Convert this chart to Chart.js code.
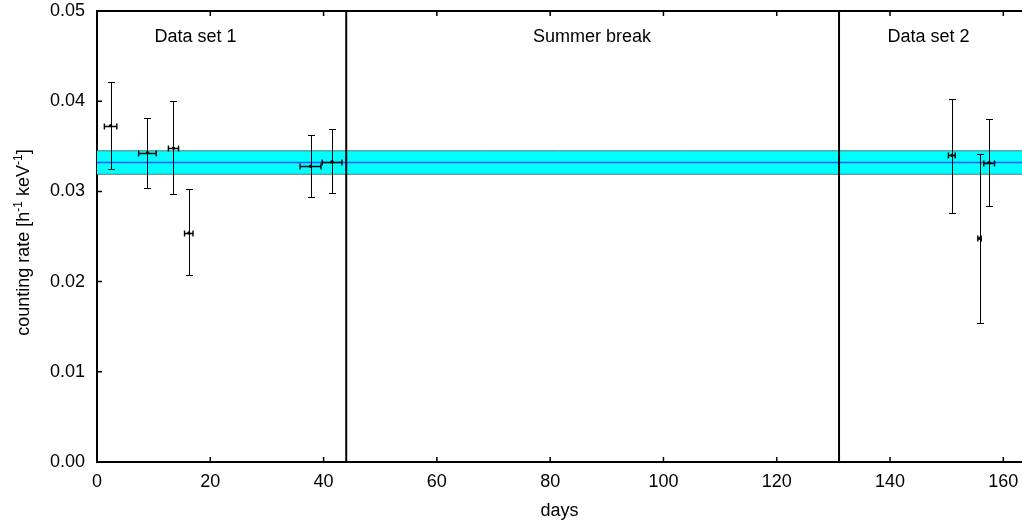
<!DOCTYPE html>
<html>
<head>
<meta charset="utf-8">
<script src="https://cdn.jsdelivr.net/npm/chart.js@4"></script>
<style>
    html, body { margin: 0; padding: 0; background: #fff; overflow: hidden; }
    #wrap { width: 1022px; height: 527px; }
    canvas { display: block; }
</style>
</head>
<body>
<div id="wrap"><canvas id="rateChart" width="1022" height="527"></canvas></div>
<script>
// measurements (days, counting rate with errors)
const days = [2.4, 8.9, 13.5, 16.2, 37.7, 41.5, 150.9, 155.8, 157.5];
const dayErr = [1.1, 1.55, 0.9, 0.75, 1.85, 1.75, 0.6, 0.3, 0.95];
const rates = [0.0373, 0.0343, 0.0348, 0.0254, 0.0328, 0.0333, 0.0340, 0.0248, 0.0332];
const rateLow = [0.0325, 0.0304, 0.0297, 0.0207, 0.0294, 0.0298, 0.0276, 0.0154, 0.0284];
const rateHigh = [0.0421, 0.0381, 0.0400, 0.0303, 0.0363, 0.0369, 0.0402, 0.0341, 0.0380];

// weighted mean and its band
const meanRate = 0.0332;
const meanLow = 0.0319;
const meanHigh = 0.0345;

// period separators and their names
const breaks = [44, 131];
const regionNames = ["Data set 1", "Summer break", "Data set 2"];
const regionCenters = [17.4, 87.4, 146.8];
const regionLabelY = 0.0471;

const xTickValues = [0, 20, 40, 60, 80, 100, 120, 140, 160];
const yTickValues = [0, 0.01, 0.02, 0.03, 0.04, 0.05];
const xMin = 0, xMax = 163.3;
const yMin = 0, yMax = 0.05;

const yTitleParts = [
    { text: "counting rate [h", sup: false },
    { text: "-1", sup: true },
    { text: " keV", sup: false },
    { text: "-1", sup: true },
    { text: "]", sup: false }
];

const FONT = "'Liberation Sans', Arial, Helvetica, sans-serif";
Chart.defaults.font.family = FONT;
Chart.defaults.font.size = 18;
Chart.defaults.color = "#000";

const framePlugin = {
    id: "frame",
    afterDraw(chart) {
        const { ctx, chartArea } = chart;
        const x = chart.scales.x;
        const y = chart.scales.y;
        ctx.save();
        ctx.strokeStyle = "#000";
        ctx.lineWidth = 2;
        ctx.beginPath();
        ctx.moveTo(chartArea.left - 1, chartArea.top);
        ctx.lineTo(chartArea.right, chartArea.top);
        ctx.stroke();

        ctx.lineWidth = 1.5;
        ctx.beginPath();
        xTickValues.forEach(v => {
            const px = x.getPixelForValue(v);
            ctx.moveTo(px, chartArea.bottom);
            ctx.lineTo(px, chartArea.bottom - 5);
            ctx.moveTo(px, chartArea.top);
            ctx.lineTo(px, chartArea.top + 5);
        });
        yTickValues.forEach(v => {
            const py = y.getPixelForValue(v);
            ctx.moveTo(chartArea.left, py);
            ctx.lineTo(chartArea.left + 5, py);
        });
        ctx.stroke();
        ctx.restore();
    }
};

const errorBarsPlugin = {
    id: "errorBars",
    afterDatasetsDraw(chart) {
        const ctx = chart.ctx;
        const x = chart.scales.x;
        const y = chart.scales.y;
        ctx.save();
        ctx.strokeStyle = "#000";
        days.forEach((d, i) => {
            const px = Math.round(x.getPixelForValue(d)) + 0.5;
            const py = Math.round(y.getPixelForValue(rates[i])) + 0.5;
            const top = Math.round(y.getPixelForValue(rateHigh[i])) + 0.5;
            const bottom = Math.round(y.getPixelForValue(rateLow[i])) + 0.5;
            const left = x.getPixelForValue(d - dayErr[i]);
            const right = x.getPixelForValue(d + dayErr[i]);
            ctx.lineWidth = 1;
            ctx.beginPath();
            ctx.moveTo(px, top);
            ctx.lineTo(px, bottom);
            ctx.moveTo(px - 3.5, top);
            ctx.lineTo(px + 3.5, top);
            ctx.moveTo(px - 3.5, bottom);
            ctx.lineTo(px + 3.5, bottom);
            ctx.stroke();
            ctx.lineWidth = 1.4;
            ctx.beginPath();
            ctx.moveTo(left, py);
            ctx.lineTo(right, py);
            ctx.moveTo(left, py - 3);
            ctx.lineTo(left, py + 3);
            ctx.moveTo(right, py - 3);
            ctx.lineTo(right, py + 3);
            ctx.stroke();
        });
        ctx.restore();
    }
};

const labelsPlugin = {
    id: "regionLabels",
    afterDraw(chart) {
        const ctx = chart.ctx;
        const x = chart.scales.x;
        const y = chart.scales.y;
        ctx.save();
        ctx.font = "18px " + FONT;
        ctx.fillStyle = "#000";
        ctx.textAlign = "center";
        ctx.textBaseline = "middle";
        regionNames.forEach((name, i) => {
            ctx.fillText(name, x.getPixelForValue(regionCenters[i]), y.getPixelForValue(regionLabelY));
        });

        // y axis title with superscripts
        const cy = (chart.chartArea.top + chart.chartArea.bottom) / 2 + 6;
        const mainFont = "18px " + FONT;
        const supFont = "12px " + FONT;
        let total = 0;
        yTitleParts.forEach(p => {
            ctx.font = p.sup ? supFont : mainFont;
            p.w = ctx.measureText(p.text).width;
            total += p.w;
        });
        ctx.translate(29, cy);
        ctx.rotate(-Math.PI / 2);
        ctx.textAlign = "left";
        ctx.textBaseline = "alphabetic";
        let pos = -total / 2;
        yTitleParts.forEach(p => {
            ctx.font = p.sup ? supFont : mainFont;
            ctx.fillText(p.text, pos, p.sup ? -7 : 0);
            pos += p.w;
        });
        ctx.restore();
    }
};

function hLine(value) {
    return [{ x: xMin, y: value }, { x: xMax, y: value }];
}

const datasets = [
    {
        data: hLine(meanHigh), showLine: true, fill: false,
        borderColor: "#4d7d7d", borderWidth: 1, pointRadius: 0, order: 4
    },
    {
        data: hLine(meanLow), showLine: true, fill: "-1",
        backgroundColor: "#00ffff", borderColor: "#4d7d7d", borderWidth: 1, pointRadius: 0, order: 4
    },
    {
        data: hLine(meanRate), showLine: true, fill: false,
        borderColor: "#2255ff", borderWidth: 1.5, pointRadius: 0, order: 3
    }
];

breaks.forEach(b => {
    datasets.push({
        data: [{ x: b, y: yMin }, { x: b, y: yMax }], showLine: true, fill: false,
        borderColor: "#000", borderWidth: 2, pointRadius: 0, order: 2
    });
});

datasets.push({
    data: days.map((d, i) => ({ x: d, y: rates[i] })),
    pointRadius: 1.6, backgroundColor: "#000", borderWidth: 0, order: 0
});

new Chart(document.getElementById("rateChart"), {
    type: "scatter",
    data: { datasets },
    options: {
        responsive: false,
        animation: false,
        devicePixelRatio: 1,
        layout: { autoPadding: false, padding: { top: 11, left: 0, right: 0, bottom: 0 } },
        plugins: {
            legend: { display: false },
            tooltip: { enabled: false }
        },
        scales: {
            x: {
                type: "linear",
                min: xMin,
                max: xMax,
                afterBuildTicks: s => { s.ticks = xTickValues.map(v => ({ value: v })); },
                afterFit: s => { s.height = 65; s.paddingLeft = 0; s.paddingRight = 0; },
                grid: { display: false, drawTicks: false },
                border: { display: true, color: "#000", width: 2 },
                ticks: { padding: 9, color: "#000" },
                title: { display: true, text: "days", color: "#000", padding: { top: 0, bottom: 5 } }
            },
            y: {
                type: "linear",
                min: yMin,
                max: yMax,
                afterBuildTicks: s => { s.ticks = yTickValues.map(v => ({ value: v })); },
                afterFit: s => { s.width = 97; s.paddingTop = 0; s.paddingBottom = 0; },
                grid: { display: false, drawTicks: false },
                border: { display: true, color: "#000", width: 2 },
                ticks: { padding: 12, color: "#000", callback: v => v.toFixed(2) }
            }
        }
    },
    plugins: [framePlugin, errorBarsPlugin, labelsPlugin]
});
</script>
</body>
</html>
